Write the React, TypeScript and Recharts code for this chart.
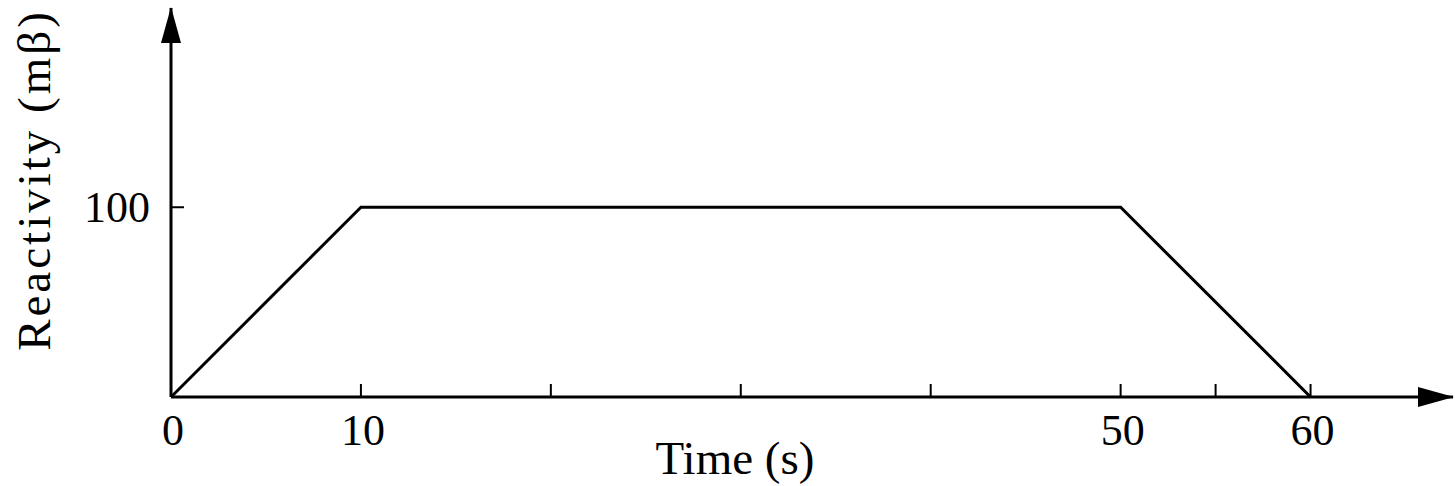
import { LineChart, Line, XAxis, YAxis } from "recharts";

const times = [0, 10, 50, 60];
const reactivity = [0, 100, 100, 0];

const xTicks = [0, 10, 20, 30, 40, 50, 55, 60];
const xLabelled = [0, 10, 50, 60];
const yTicks = [100];

const data = times.map((t, i) => ({ t, r: reactivity[i] }));

const FONT = "'Liberation Serif', 'Times New Roman', serif";

const XTick = (props: any) => {
  const { x, y, payload } = props;
  const v = payload.value;
  return (
    <g>
      {v !== 0 && <line x1={x} y1={y} x2={x} y2={y - 13} stroke="#000" strokeWidth={2} />}
      {xLabelled.includes(v) && (
        <text x={x + 2} y={y + 48} textAnchor="middle" fontSize={44} fontFamily={FONT} fill="#000">
          {v}
        </text>
      )}
    </g>
  );
};

const YTick = (props: any) => {
  const { x, y, payload } = props;
  return (
    <g>
      <line x1={x} y1={y} x2={x + 13} y2={y} stroke="#000" strokeWidth={2} />
      <text x={x - 21} y={y + 15} textAnchor="end" fontSize={44} fontFamily={FONT} fill="#000">
        {payload.value}
      </text>
    </g>
  );
};

export default function App() {
  return (
    <div style={{ position: "absolute", left: 0, top: 0, background: "#fff" }}>
      <LineChart width={1455} height={486} data={data} margin={{ top: 8, right: 2, left: 0, bottom: 0 }}>
        <defs>
          <marker
            id="arrow"
            markerUnits="userSpaceOnUse"
            markerWidth={36}
            markerHeight={20}
            refX={35}
            refY={10}
            orient="auto-start-reverse"
          >
            <path d="M0,0 L36,10 L0,20 Z" fill="#000" />
          </marker>
        </defs>
        <XAxis
          dataKey="t"
          type="number"
          domain={[0, 67.5]}
          ticks={xTicks}
          interval={0}
          height={89}
          tickSize={0}
          tickMargin={0}
          tickLine={false}
          axisLine={{ stroke: "#000", strokeWidth: 3, markerEnd: "url(#arrow)" }}
          tick={<XTick />}
          allowDataOverflow
        />
        <YAxis
          type="number"
          domain={[0, 205]}
          ticks={yTicks}
          width={171}
          tickSize={0}
          tickMargin={0}
          tickLine={false}
          axisLine={{ stroke: "#000", strokeWidth: 3, markerStart: "url(#arrow)" }}
          tick={<YTick />}
          allowDataOverflow
        />
        <Line
          type="linear"
          dataKey="r"
          stroke="#000"
          strokeWidth={3}
          dot={false}
          activeDot={false}
          isAnimationActive={false}
        />
        <text x={735} y={474} textAnchor="middle" fontSize={47} fontFamily={FONT} fill="#000">
          Time (s)
        </text>
        <text
          x={50}
          y={180}
          transform="rotate(-90, 50, 180)"
          textAnchor="middle"
          fontSize={47}
          letterSpacing={3}
          fontFamily={FONT}
          fill="#000"
        >
          Reactivity (mβ)
        </text>
      </LineChart>
    </div>
  );
}
